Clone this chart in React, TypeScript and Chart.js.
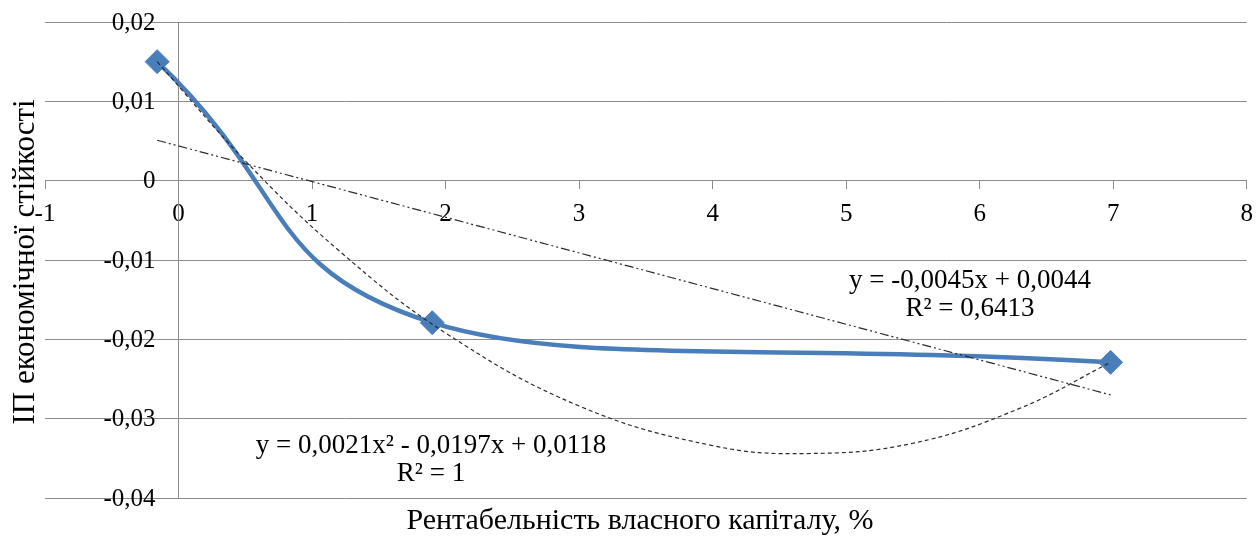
import React, { useEffect, useRef } from "react";
import { Chart, registerables } from "chart.js";

Chart.register(...registerables);

// Main series (Excel smoothed line with diamond markers)
const roeValues = [-0.16, 1.9, 6.98];
const stabilityValues = [0.015, -0.0179, -0.0229];

// Linear trendline endpoints
const linTrendX = [-0.16, 6.98];
const linTrendY = [0.0051, -0.0270];

// Polynomial trendline points
const polyTrendX = [-0.16, 0.5, 1.2, 2, 3, 4, 4.7, 5.5, 6.3, 6.98];
const polyTrendY = [0.015, 0.0025, -0.0088, -0.0192, -0.0284, -0.0334, -0.0344, -0.0331, -0.0287, -0.0229];

const xTitle = "Рентабельність власного капіталу, %";
const yTitle = "ІП економічної стійкості";
const linEqText = ["y = -0,0045x + 0,0044", "R² = 0,6413"];
const polyEqText = ["y = 0,0021x² - 0,0197x + 0,0118", "R² = 1"];

const FONT = "'Liberation Serif', 'Times New Roman', serif";

const fmt = (v: number) => {
  const r = Math.round(v * 100) / 100;
  if (r === 0) return "0";
  return String(r).replace(".", ",");
};

const toXY = (xs: number[], ys: number[]) => xs.map((x, i) => ({ x, y: ys[i] }));

const smoothFix = {
  id: "smoothFix",
  beforeDatasetDraw(chart: any, args: any) {
    const meta = args.meta;
    if (meta.dataset && meta.controller && meta.controller.getDataset().label === "main") {
      meta.dataset.updateControlPoints(chart.chartArea, "x");
      const p = meta.data[1];
      if (p) {
        const k = 0.45;
        p.cp2x = p.x + k * (p.cp2x - p.x);
        p.cp2y = p.y + k * (p.cp2y - p.y);
      }
    }
  },
};

const textPlugin = {
  id: "texts",
  afterDraw(chart: any) {
    const ctx = chart.ctx;
    const ys = chart.scales.y;
    const xs = chart.scales.x;
    ctx.save();
    ctx.fillStyle = "#000";
    // y tick labels, left of the y axis line
    ctx.font = `25px ${FONT}`;
    ctx.textAlign = "right";
    ctx.textBaseline = "middle";
    const axisX = xs.getPixelForValue(0);
    ys.ticks.forEach((t: any) => {
      ctx.fillText(fmt(t.value), axisX - 23, ys.getPixelForValue(t.value) + 1);
    });
    ctx.textAlign = "center";
    ctx.font = `30px ${FONT}`;
    ctx.fillText(xTitle, 640, 521);
    ctx.save();
    ctx.translate(26, 262);
    ctx.rotate(-Math.PI / 2);
    ctx.font = `31px ${FONT}`;
    ctx.fillText(yTitle, 0, 0);
    ctx.restore();
    ctx.font = `27px ${FONT}`;
    ctx.fillText(linEqText[0], 970, 281);
    ctx.fillText(linEqText[1], 970, 309);
    ctx.fillText(polyEqText[0], 431, 446);
    ctx.fillText(polyEqText[1], 431, 474);
    ctx.restore();
  },
};

export default function App() {
  const ref = useRef<HTMLCanvasElement | null>(null);
  useEffect(() => {
    if (!ref.current) return;
    const gridColor = "#8c8c8c";
    const chart = new Chart(ref.current, {
      type: "line",
      data: {
        datasets: [
          {
            label: "lin",
            data: toXY(linTrendX, linTrendY),
            borderColor: "#2b2b2b",
            borderWidth: 1.2,
            borderDash: [9, 3, 2, 3, 2, 3],
            pointRadius: 0,
            fill: false,
            order: 1,
          },
          {
            label: "poly",
            data: toXY(polyTrendX, polyTrendY),
            borderColor: "#2b2b2b",
            borderWidth: 1.2,
            borderDash: [4, 3],
            pointRadius: 0,
            tension: 0.4,
            fill: false,
            order: 2,
          },
          {
            label: "main",
            data: toXY(roeValues, stabilityValues),
            borderColor: "#4a7ebb",
            backgroundColor: "#4a7ebb",
            borderWidth: 4.5,
            pointStyle: "rectRot",
            pointRadius: 12,
            pointBorderWidth: 1,
            pointBorderColor: "#4a7ebb",
            pointBackgroundColor: "#4a7ebb",
            tension: 0.5,
            fill: false,
            order: 3,
          },
        ],
      },
      options: {
        animation: false,
        responsive: true,
        maintainAspectRatio: false,
        layout: { autoPadding: false, padding: { left: 45, right: 11, top: 22, bottom: 40 } },
        plugins: { legend: { display: false }, tooltip: { enabled: false } },
        scales: {
          x: {
            type: "linear",
            position: { y: 0 },
            min: -1,
            max: 8,
            ticks: {
              stepSize: 1,
              color: "#000",
              font: { family: FONT, size: 25 },
              padding: 11,
              callback: (v: any) => fmt(Number(v)),
            },
            grid: { drawOnChartArea: false, drawTicks: true, tickLength: 8, color: gridColor },
            border: { display: true, color: gridColor },
          },
          y: {
            type: "linear",
            position: { x: 0 },
            min: -0.04,
            max: 0.02,
            ticks: {
              stepSize: 0.01,
              display: false,
            },
            grid: { drawTicks: false, color: gridColor },
            border: { display: true, color: gridColor },
          },
        },
      },
      plugins: [smoothFix, textPlugin],
    });
    return () => chart.destroy();
  }, []);
  return (
    <div style={{ position: "fixed", left: 0, top: 0, width: 1256, height: 538, overflow: "hidden", background: "#fff" }}>
      <div style={{ position: "absolute", left: 0, top: 0, width: 1264, height: 538 }}>
        <canvas ref={ref} />
      </div>
    </div>
  );
}
